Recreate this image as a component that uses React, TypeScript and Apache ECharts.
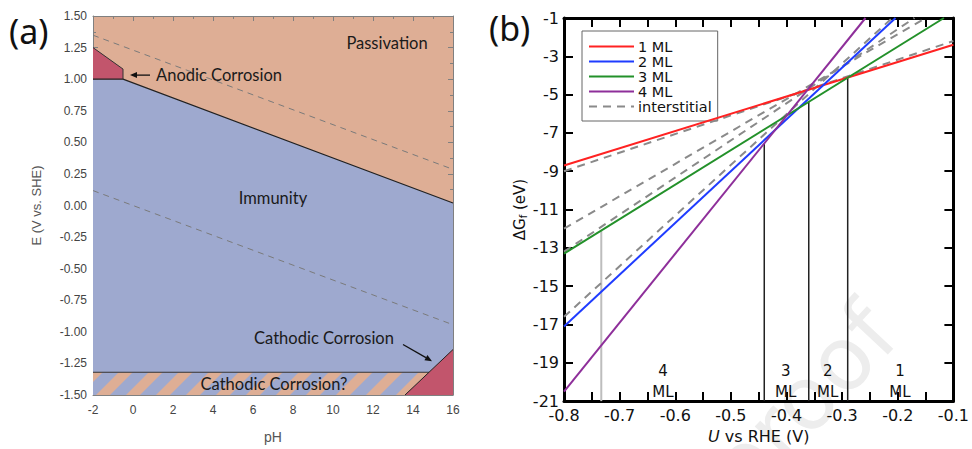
import React, { useEffect, useRef } from 'react';
import * as echarts from 'echarts';

// ---------- Panel (a): Pourbaix diagram ----------
const PH_MIN = -2;
const PH_MAX = 16;
const E_MIN = -1.5;
const E_MAX = 1.5;

const immunityRegion = [[-2, 1.0], [-0.5, 1.0], [16, 0.02], [16, -1.14], [14.8, -1.32], [-2, -1.32]];
const anodicRegion = [[-2, 1.25], [-0.5, 1.08], [-0.5, 1.0], [-2, 1.0]];
const cathodicRegion = [[13.6, -1.5], [16, -1.14], [16, -1.5]];
const hatchBand = [[-2, -1.32], [16, -1.5]];

const passiveBoundary = [[-2, 1.0], [-0.5, 1.0], [16, 0.02]];
const anodicEdge = [[-2, 1.25], [-0.5, 1.08], [-0.5, 1.0]];
const bandTop = [[-2, -1.32], [14.8, -1.32]];
const cathodicEdge = [[13.6, -1.5], [16, -1.14]];
const waterUpper = [[-2, 1.348], [16, 0.286]];
const waterLower = [[-2, 0.118], [16, -0.944]];

const regionLabelsA = [
  { x: 12.7, y: 1.285, text: 'Passivation' },
  { x: 7.0, y: 0.057, text: 'Immunity' },
  { x: 9.55, y: -1.048, text: 'Cathodic Corrosion' },
  { x: 7.05, y: -1.409, text: 'Cathodic Corrosion?' },
  { x: 4.3, y: 1.032, text: 'Anodic Corrosion' },
];
const arrowsA = [
  [[0.85, 1.032], [-0.15, 1.032]],
  [[13.5, -1.1], [14.95, -1.232]],
];

// ---------- Panel (b): formation energies ----------
const U_MIN = -0.8;
const U_MAX = -0.1;
const G_MIN = -21;
const G_MAX = -1;
const G_SHIFT = 1; // axis drawn as G + 1 so ticks fall on odd values

const mlNames = ['1 ML', '2 ML', '3 ML', '4 ML'];
const mlColors = ['#ff2222', '#1f3cff', '#23912a', '#8e2f9a'];
const mlLines = [
  [[-0.8, -8.7], [-0.1, -2.4]],
  [[-0.8, -17.1], [-0.204, -1.0]],
  [[-0.8, -13.3], [-0.117, -1.0]],
  [[-0.8, -20.5], [-0.258, -1.0]],
];
const interstitialLines = [
  [[-0.8, -9.0], [-0.1, -2.2]],
  [[-0.8, -12.0], [-0.15, -1.0]],
  [[-0.8, -13.2], [-0.17, -1.0]],
  [[-0.8, -16.6], [-0.21, -1.0]],
];
const transitionLines = [
  [[-0.44, -21], [-0.44, -7.55]],
  [[-0.36, -21], [-0.36, -5.35]],
  [[-0.29, -21], [-0.29, -4.1]],
];
const grayLine = [[-0.733, -21], [-0.733, -12.1]];
const regionLabelsB = [
  { x: -0.622, y: -19.97, text: '4\nML' },
  { x: -0.4015, y: -19.97, text: '3\nML' },
  { x: -0.326, y: -19.97, text: '2\nML' },
  { x: -0.196, y: -19.97, text: '1\nML' },
];

const ORANGE = '#deae95';
const BLUE = '#9ea9cf';
const RED = '#c2556c';

const shiftG = (pts: number[][]) => pts.map((p) => [p[0], p[1] + G_SHIFT]);

function polygonSeries(points: number[][], color: string, z: number) {
  return {
    type: 'custom',
    xAxisIndex: 0,
    yAxisIndex: 0,
    clip: true,
    silent: true,
    z,
    data: [[points[0][0], points[0][1]]],
    renderItem: (_p: any, api: any) => ({
      type: 'polygon',
      shape: { points: points.map((pt) => api.coord(pt)) },
      style: { fill: color },
    }),
  };
}

function lineA(points: number[][], color: string, width: number, dashed: boolean, z: number) {
  return {
    type: 'line',
    xAxisIndex: 0,
    yAxisIndex: 0,
    data: points,
    symbol: 'none',
    silent: true,
    z,
    lineStyle: { color, width, type: dashed ? [6, 5] : 'solid' },
  };
}

function textSeries(items: any[], xi: number, yi: number, font: any, shift: number) {
  return {
    type: 'custom',
    xAxisIndex: xi,
    yAxisIndex: yi,
    silent: true,
    z: 20,
    data: items.map((it) => [it.x, it.y + shift]),
    renderItem: (params: any, api: any) => {
      const it = items[params.dataIndex];
      const c = api.coord([it.x, it.y + shift]);
      return {
        type: 'text',
        style: {
          text: it.text,
          x: c[0],
          y: c[1],
          align: 'center',
          verticalAlign: 'middle',
          fill: font.color,
          fontSize: font.fontSize,
          fontFamily: font.fontFamily,
          lineHeight: font.lineHeight,
        },
      };
    },
  };
}

export default function App() {
  const ref = useRef<HTMLDivElement>(null);
  useEffect(() => {
    document.body.style.margin = '0';
    if (!ref.current) return;
    const chart = echarts.init(ref.current, undefined, { renderer: 'svg' });

    const axisA = {
      axisLine: { show: true, onZero: false, lineStyle: { color: '#808080', width: 1 } },
      axisTick: { show: true, inside: true, length: 5, lineStyle: { color: '#808080' } },
      minorTick: { show: true, splitNumber: 2, length: 3, lineStyle: { color: '#808080' } },
      splitLine: { show: false },
      axisLabel: { color: '#444', fontFamily: 'Liberation Sans', fontSize: 12 },
    };
    const axisB = {
      axisLine: { show: true, onZero: false, lineStyle: { color: '#000', width: 3 } },
      axisTick: { show: true, inside: true, length: 9, lineStyle: { color: '#000', width: 2 } },
      splitLine: { show: false },
      axisLabel: { color: '#111', fontFamily: 'DejaVu Sans', fontSize: 16, margin: 6 },
    };

    const hatch = {
      type: 'custom',
      xAxisIndex: 0,
      yAxisIndex: 0,
      clip: true,
      silent: true,
      z: 3,
      data: [hatchBand[0]],
      renderItem: (_p: any, api: any) => {
        const tl = api.coord(hatchBand[0]);
        const br = api.coord(hatchBand[1]);
        const h = br[1] - tl[1];
        const period = 30;
        const w = 14;
        const children: any[] = [
          { type: 'rect', shape: { x: tl[0], y: tl[1], width: br[0] - tl[0], height: h }, style: { fill: BLUE } },
        ];
        for (let x = tl[0] + 3 - period * 2; x < br[0]; x += period) {
          children.push({
            type: 'polygon',
            shape: { points: [[x, br[1]], [x + w, br[1]], [x + w + h, tl[1]], [x + h, tl[1]]] },
            style: { fill: ORANGE },
          });
        }
        return { type: 'group', children };
      },
    };

    const arrowSeries = {
      type: 'custom',
      xAxisIndex: 0,
      yAxisIndex: 0,
      silent: true,
      z: 21,
      data: arrowsA.map((a) => a[0]),
      renderItem: (params: any, api: any) => {
        const a = arrowsA[params.dataIndex];
        const p0 = api.coord(a[0]);
        const p1 = api.coord(a[1]);
        const dx = p1[0] - p0[0];
        const dy = p1[1] - p0[1];
        const len = Math.sqrt(dx * dx + dy * dy);
        const ux = dx / len;
        const uy = dy / len;
        const hl = 7;
        const hw = 3;
        const bx = p1[0] - ux * hl;
        const by = p1[1] - uy * hl;
        return {
          type: 'group',
          children: [
            { type: 'line', shape: { x1: p0[0], y1: p0[1], x2: bx, y2: by }, style: { stroke: '#111', lineWidth: 1.3 } },
            {
              type: 'polygon',
              shape: { points: [[p1[0], p1[1]], [bx - uy * hw, by + ux * hw], [bx + uy * hw, by - ux * hw]] },
              style: { fill: '#111' },
            },
          ],
        };
      },
    };

    const series: any[] = [
      polygonSeries(immunityRegion, BLUE, 2),
      hatch,
      polygonSeries(cathodicRegion, RED, 4),
      polygonSeries(anodicRegion, RED, 4),
      lineA(waterUpper, '#7a7a7a', 1, true, 5),
      lineA(waterLower, '#7a7a7a', 1, true, 5),
      lineA(passiveBoundary, '#222', 1.2, false, 6),
      lineA(anodicEdge, '#333', 1, false, 6),
      lineA(bandTop, '#333', 1, false, 6),
      lineA(cathodicEdge, '#222', 1, false, 6),
      textSeries(regionLabelsA, 0, 0, { color: '#1a1a1a', fontSize: 16.5, fontFamily: 'Lato' }, 0),
      arrowSeries,
    ];

    // panel b
    transitionLines.forEach((l) => {
      series.push({
        type: 'line', xAxisIndex: 2, yAxisIndex: 2, data: shiftG(l), symbol: 'none', silent: true, z: 3,
        lineStyle: { color: '#222', width: 1.5 },
      });
    });
    series.push({
      type: 'line', xAxisIndex: 2, yAxisIndex: 2, data: shiftG(grayLine), symbol: 'none', silent: true, z: 3,
      lineStyle: { color: '#bdbdbd', width: 2 },
    });
    interstitialLines.forEach((l) => {
      series.push({
        name: 'interstitial', type: 'line', xAxisIndex: 2, yAxisIndex: 2, data: shiftG(l), symbol: 'none',
        silent: true, z: 4, color: '#8a8a8a',
        lineStyle: { color: '#8a8a8a', width: 2, type: [8, 6] },
      });
    });
    mlLines.forEach((l, i) => {
      series.push({
        name: mlNames[i], type: 'line', xAxisIndex: 2, yAxisIndex: 2, data: shiftG(l), symbol: 'none',
        silent: true, z: 5, color: mlColors[i],
        lineStyle: { color: mlColors[i], width: 2 },
      });
    });
    series.push(textSeries(regionLabelsB, 2, 2, { color: '#111', fontSize: 15, fontFamily: 'DejaVu Sans', lineHeight: 21 }, G_SHIFT));

    chart.setOption({
      animation: false,
      backgroundColor: '#ffffff',
      grid: [
        { left: 93, top: 16, width: 360, height: 391, show: true, backgroundColor: ORANGE, borderWidth: 0 },
        { left: 564, top: 18, width: 393, height: 391, show: false },
      ],
      xAxis: [
        {
          ...axisA, type: 'value', gridIndex: 0, min: PH_MIN, max: PH_MAX, interval: 2, position: 'bottom',
          name: 'pH', nameLocation: 'middle', nameGap: 35,
          nameTextStyle: { color: '#555', fontFamily: 'Liberation Sans', fontSize: 14 },
          axisLabel: { ...axisA.axisLabel, margin: 9 },
        },
        { ...axisA, type: 'value', gridIndex: 0, min: PH_MIN, max: PH_MAX, interval: 2, position: 'top', axisLabel: { show: false } },
        {
          ...axisB, type: 'value', gridIndex: 1, min: U_MIN, max: U_MAX, interval: 0.1, position: 'bottom',
          minorTick: { show: true, splitNumber: 2, length: 9, lineStyle: { color: '#000', width: 2 } },
          axisLabel: { ...axisB.axisLabel, formatter: (v: number) => v.toFixed(1) },
          name: '{i|U} vs RHE (V)', nameLocation: 'middle', nameGap: 12,
          nameTextStyle: {
            color: '#111', fontFamily: 'DejaVu Sans', fontSize: 16,
            rich: { i: { fontStyle: 'italic', fontFamily: 'DejaVu Sans', fontSize: 16, color: '#111' } },
          },
        },
        {
          ...axisB, type: 'value', gridIndex: 1, min: U_MIN, max: U_MAX, interval: 0.1, position: 'top',
          minorTick: { show: true, splitNumber: 2, length: 9, lineStyle: { color: '#000', width: 2 } },
          axisLabel: { show: false },
        },
      ],
      yAxis: [
        {
          ...axisA, type: 'value', gridIndex: 0, min: E_MIN, max: E_MAX, interval: 0.25, position: 'left',
          axisLabel: { ...axisA.axisLabel, margin: 6, formatter: (v: number) => v.toFixed(2) },
          name: 'E (V vs. SHE)', nameLocation: 'middle', nameGap: 50,
          nameTextStyle: { color: '#555', fontFamily: 'Liberation Sans', fontSize: 13 },
        },
        { ...axisA, type: 'value', gridIndex: 0, min: E_MIN, max: E_MAX, interval: 0.25, position: 'right', axisLabel: { show: false } },
        {
          ...axisB, type: 'value', gridIndex: 1, min: G_MIN + G_SHIFT, max: G_MAX + G_SHIFT, interval: 2, position: 'left',
          axisLabel: { ...axisB.axisLabel, margin: 5, formatter: (v: number) => String(Math.round(v - G_SHIFT)) },
          name: 'ΔG{s|f} (eV)', nameLocation: 'middle', nameGap: 31,
          nameTextStyle: {
            color: '#111', fontFamily: 'DejaVu Sans', fontSize: 15,
            rich: { s: { fontSize: 10, fontFamily: 'DejaVu Sans', color: '#111', padding: [8, 0, 0, 0] } },
          },
        },
        {
          ...axisB, type: 'value', gridIndex: 1, min: G_MIN + G_SHIFT, max: G_MAX + G_SHIFT, interval: 2, position: 'right',
          axisLabel: { show: false },
        },
      ],
      legend: {
        data: [...mlNames, 'interstitial'],
        orient: 'vertical',
        left: 582,
        top: 31,
        itemWidth: 45,
        itemHeight: 14,
        itemGap: 0,
        padding: [8, 6, 7, 6],
        borderColor: '#666',
        borderWidth: 1,
        selectedMode: false,
        itemStyle: { opacity: 0 },
        textStyle: { fontFamily: 'DejaVu Sans', fontSize: 14.5, color: '#111', lineHeight: 14, padding: [0, 0, 0, -1] },
      },
      graphic: [
        {
          type: 'text', left: 9, top: 14, z: 100,
          style: { text: '(a)', fontSize: 34, fontFamily: 'Noto Sans', fill: '#111' },
        },
        {
          type: 'text', left: 489, top: 11, z: 100,
          style: { text: '(b)', fontSize: 34, fontFamily: 'Noto Sans', fill: '#111' },
        },
        {
          type: 'text', x: 880, y: 318, rotation: (47 * Math.PI) / 180, z: -10, silent: true,
          style: { text: 'Journal Pre-proof', fontSize: 88, fontFamily: 'DejaVu Sans', fill: '#ededed', align: 'right', verticalAlign: 'middle' },
        },
      ],
      series,
    });
    return () => chart.dispose();
  }, []);
  return <div ref={ref} style={{ width: 972, height: 449 }} />;
}
